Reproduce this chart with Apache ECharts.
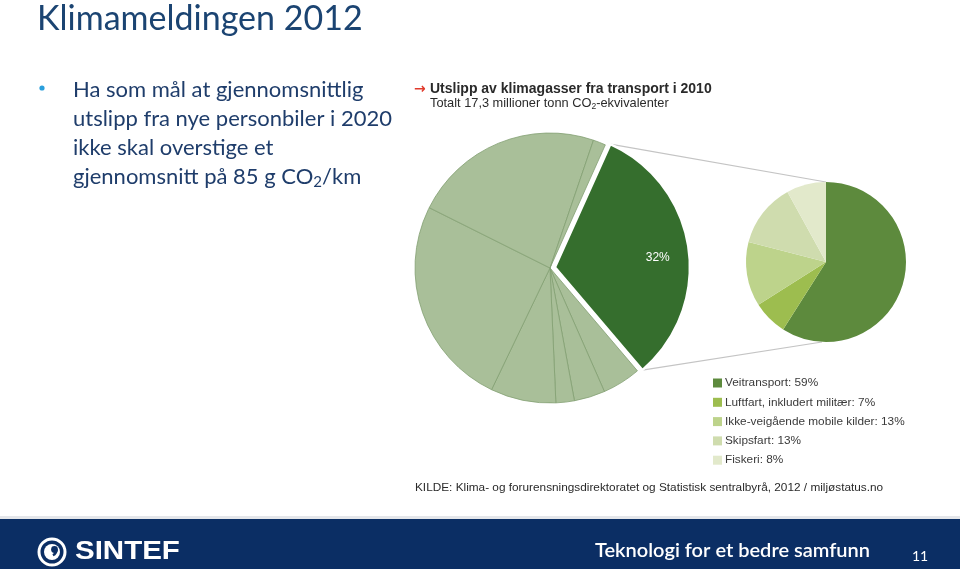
<!DOCTYPE html>
<html>
<head>
<meta charset="utf-8">
<script src="https://cdn.jsdelivr.net/npm/echarts@6/dist/echarts.min.js"></script>
<style>html,body{margin:0;padding:0;background:#fff;}#c{width:960px;height:569px;}</style>
</head>
<body>
<div id="c"></div>
<script>
// ---- data ----
const totalCategories = ['Transport', 'Øvrig 1', 'Øvrig 2', 'Øvrig 3', 'Øvrig 4', 'Øvrig 5', 'Øvrig 6', 'Øvrig 7'];
const totalValues = [32, 4.6, 3.7, 2.2, 7.8, 25.2, 22.8, 1.5];
const transportCategories = ['Veitransport', 'Luftfart, inkludert militær', 'Ikke-veigående mobile kilder', 'Skipsfart', 'Fiskeri'];
const transportValues = [59, 7, 13, 13, 8];
const transportColors = ['#5d8a3d', '#9dbd4f', '#bdd38b', '#cfdcae', '#e2e9cb'];
const transportLabel = '32%';

const chart = echarts.init(document.getElementById('c'), null, {renderer: 'canvas'});

// geometry
const bigC = [550, 268], bigR = 135, bigStart = 65.8, offset = 5;
const smallC = [826, 262], smallR = 80;

// connector lines computed from data
const totalSum = totalValues.reduce((a, b) => a + b, 0);
const startCw = 90 - bigStart; // clockwise degrees from 12 o'clock
const endCw = startCw + totalValues[0] / totalSum * 360;
const midCw = (startCw + endCw) / 2 * Math.PI / 180;
const ox = Math.sin(midCw) * offset, oy = -Math.cos(midCw) * offset;
function pt(deg) {
  const a = deg * Math.PI / 180;
  return [bigC[0] + ox + Math.sin(a) * bigR, bigC[1] + oy - Math.cos(a) * bigR];
}
const p1 = pt(startCw), p2 = pt(endCw);

const FONT = '"Liberation Sans", Arial, sans-serif';
const SLIDE = 'Lato, "Open Sans", sans-serif';

chart.setOption({
  animation: false,
  legend: {
    orient: 'vertical',
    left: 713,
    top: 377,
    padding: 0,
    itemWidth: 9,
    itemHeight: 9,
    itemGap: 7.3,
    icon: 'rect',
    selectedMode: false,
    data: transportCategories,
    formatter: function (name) {
      const i = transportCategories.indexOf(name);
      return name + ': ' + transportValues[i] + '%';
    },
    textStyle: {fontFamily: FONT, fontSize: 11.8, lineHeight: 12, color: '#3a3a3a', padding: [0, 0, 0, -2]}
  },
  series: [
    {
      type: 'pie',
      center: bigC,
      radius: bigR,
      startAngle: bigStart,
      clockwise: true,
      selectedMode: 'single',
      selectedOffset: offset,
      silent: true,
      emphasis: {disabled: true},
      label: {show: false},
      labelLine: {show: false},
      data: totalValues.map((v, i) => i === 0 ? {
        name: totalCategories[i], value: v, selected: true,
        itemStyle: {color: '#356e2d', borderColor: '#ffffff', borderWidth: 2.5},
        label: {show: true, position: 'inside', formatter: transportLabel, color: '#ffffff',
          fontFamily: FONT, fontSize: 12, padding: [0, 0, 0, 66]}
      } : {
        name: totalCategories[i], value: v,
        itemStyle: {color: '#a9bf99', borderColor: '#83a072', borderWidth: 0.8}
      })
    },
    {
      type: 'pie',
      center: smallC,
      radius: smallR,
      startAngle: 90,
      clockwise: true,
      silent: true,
      emphasis: {disabled: true},
      label: {show: false},
      labelLine: {show: false},
      itemStyle: {borderWidth: 0},
      data: transportValues.map((v, i) => ({
        name: transportCategories[i], value: v, itemStyle: {color: transportColors[i]}
      }))
    }
  ],
  graphic: [
    // connectors
    {type: 'line', shape: {x1: p1[0], y1: p1[1], x2: smallC[0], y2: smallC[1] - smallR},
      style: {stroke: '#c4c4c4', lineWidth: 1.2}, z: -1},
    {type: 'line', shape: {x1: p2[0], y1: p2[1], x2: smallC[0] - 4, y2: smallC[1] + smallR},
      style: {stroke: '#c4c4c4', lineWidth: 1.2}, z: -1},
    // slide title
    {type: 'text', left: 37, top: 2, style: {text: 'Klimameldingen 2012', font: '34px ' + SLIDE, fill: '#1b4472'}},
    // bullet
    {type: 'circle', shape: {cx: 42, cy: 88, r: 2.6}, style: {fill: '#2a9fdc'}},
    {type: 'text', left: 73, top: 76, style: {
      text: 'Ha som mål at gjennomsnittlig\nutslipp fra nye personbiler i 2020\nikke skal overstige et\ngjennomsnitt på 85 g CO{sub|2}/km',
      font: '22px ' + SLIDE, fill: '#1f3d6b', lineHeight: 28.7,
      rich: {sub: {fontSize: 15, fontFamily: SLIDE, fill: '#1f3d6b', padding: [11, 0, 0, 0]}}
    }},
    // chart headings
    {type: 'text', left: 414, top: 82, style: {text: '\u2192', font: 'bold 14px "DejaVu Sans", sans-serif', fill: '#e03a2c'}},
    {type: 'text', left: 430, top: 82, style: {text: 'Utslipp av klimagasser fra transport i 2010', font: 'bold 14px ' + FONT, fill: '#2a2a2a'}},
    {type: 'text', left: 430, top: 97, style: {
      text: 'Totalt 17,3 millioner tonn CO{sub|2}-ekvivalenter', font: '12.8px ' + FONT, fill: '#2a2a2a',
      rich: {sub: {fontSize: 8.5, fontFamily: FONT, fill: '#2a2a2a', padding: [7, 0, 0, 0]}}
    }},
    {type: 'text', left: 415, top: 482, style: {
      text: 'KILDE: Klima- og forurensningsdirektoratet og Statistisk sentralbyrå, 2012 / miljøstatus.no',
      font: '11.8px ' + FONT, fill: '#2a2a2a'}},
    // footer
    {type: 'rect', shape: {x: 0, y: 516, width: 960, height: 3}, style: {fill: '#e4e6ea'}},
    {type: 'rect', shape: {x: 0, y: 519, width: 960, height: 50}, style: {fill: '#0b2e64'}},
    {type: 'circle', shape: {cx: 52, cy: 552, r: 13}, style: {fill: 'none', stroke: '#ffffff', lineWidth: 3}},
    {type: 'circle', shape: {cx: 52, cy: 552, r: 8}, style: {fill: '#ffffff'}},
    {type: 'circle', shape: {cx: 54.5, cy: 549.5, r: 3.4}, style: {fill: '#0b2e64'}},
    {type: 'arc', shape: {cx: 50, cy: 549.5, r: 6.5, startAngle: 0, endAngle: 1.1}, style: {fill: 'none', stroke: '#0b2e64', lineWidth: 2.4}},
    {type: 'text', left: 75, top: 540, scaleX: 1.18, style: {text: 'SINTEF', font: 'bold 25px ' + FONT, fill: '#ffffff'}},
    {type: 'text', left: 595, top: 541, style: {text: 'Teknologi for et bedre samfunn', font: '600 20px ' + SLIDE, fill: '#ffffff'}},
    {type: 'text', left: 912, top: 549, style: {text: '11', font: '14px ' + SLIDE, fill: '#ffffff'}}
  ]
});
</script>
</body>
</html>
